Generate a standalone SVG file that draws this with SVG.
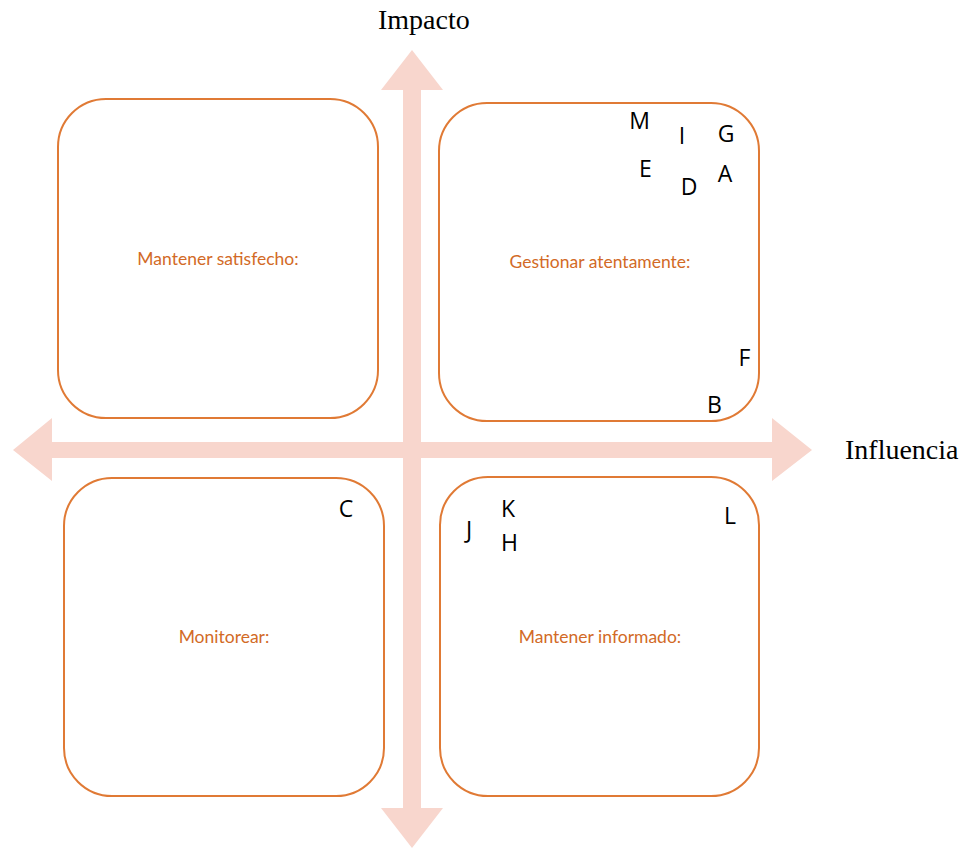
<svg xmlns="http://www.w3.org/2000/svg" width="966" height="850" viewBox="0 0 966 850">
<style>
.box{fill:#ffffff;stroke:#E07A35;stroke-width:2}
.lbl{font-family:"Lato","Open Sans",sans-serif;font-size:17.5px;fill:#D26A26;text-anchor:middle}
.ltr{font-family:"Open Sans","Noto Sans",sans-serif;font-size:23px;fill:#000;text-anchor:middle}
.axis{font-family:"Liberation Serif","Times New Roman",serif;font-size:28px;fill:#000}
.arr{fill:#F8D6CD}
</style>
<rect width="966" height="850" fill="#ffffff"/>
<g id="connectors">
<polygon class="arr" points="412,50 443,90 421,90 421,808 443,808 412,848 381,808 403,808 403,90 381,90"/>
<polygon class="arr" points="13,450 52,418 52,442 772,442 772,418 812,450 772,481 772,458 52,458 52,481"/>
</g>
<text class="axis" x="378" y="29">Impacto</text>
<text class="axis" x="845" y="459">Influencia</text>
<g id="q-satisfecho">
<rect class="box" x="58" y="99" width="320" height="319" rx="48" ry="48"/>
<text class="lbl" x="218" y="265">Mantener satisfecho:</text>
</g>
<g id="q-gestionar">
<rect class="box" x="439" y="103" width="320" height="318" rx="48" ry="48"/>
<text class="lbl" x="600" y="268">Gestionar atentamente:</text>
</g>
<g id="q-monitorear">
<rect class="box" x="64" y="478" width="320" height="318" rx="48" ry="48"/>
<text class="lbl" x="224" y="643">Monitorear:</text>
</g>
<g id="q-informado">
<rect class="box" x="440" y="477" width="319" height="319" rx="48" ry="48"/>
<text class="lbl" x="600" y="643">Mantener informado:</text>
</g>
<g id="stakeholders">
<text class="ltr" x="639.5" y="129">M</text>
<text class="ltr" x="682" y="144">I</text>
<text class="ltr" x="726" y="142">G</text>
<text class="ltr" x="645.5" y="177">E</text>
<text class="ltr" x="689" y="195">D</text>
<text class="ltr" x="725" y="182">A</text>
<text class="ltr" x="744.5" y="366">F</text>
<text class="ltr" x="714.5" y="413">B</text>
<text class="ltr" x="346" y="517">C</text>
<text class="ltr" x="469" y="538">J</text>
<text class="ltr" x="508" y="517">K</text>
<text class="ltr" x="509.5" y="551">H</text>
<text class="ltr" x="730" y="524">L</text>
</g>
</svg>
